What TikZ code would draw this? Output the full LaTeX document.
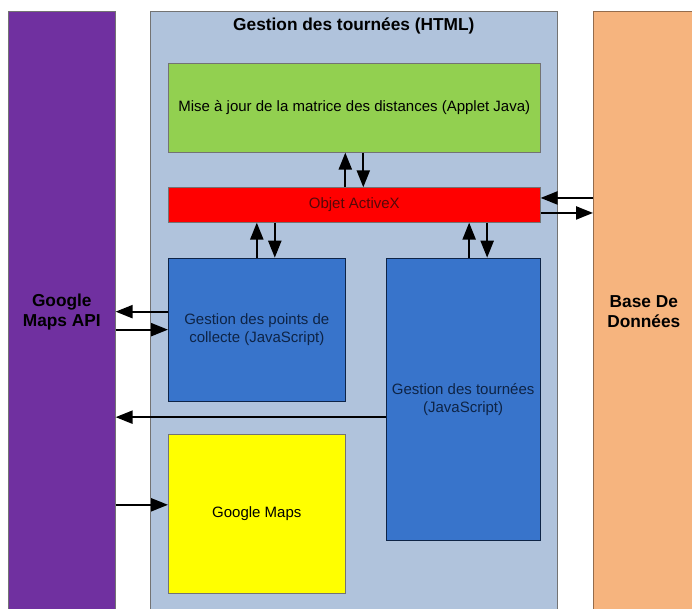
\documentclass[tikz,border=0pt]{standalone}
\usepackage{fontspec}
\setmainfont{Liberation Sans}
\usepackage{xcolor}
\usetikzlibrary{positioning}
\usetikzlibrary{calc,arrows.meta}
\definecolor{colapi}{HTML}{7030A0}
\definecolor{colhtml}{HTML}{B0C3DC}
\definecolor{colbdd}{HTML}{F6B47E}
\definecolor{colapplet}{HTML}{92D050}
\definecolor{colactivex}{HTML}{FF0000}
\definecolor{coljs}{HTML}{3874CB}
\definecolor{colmaps}{HTML}{FFFF00}
\definecolor{txtjs}{HTML}{0E2446}
\definecolor{txtactivex}{HTML}{560808}
\tikzset{
  bloc/.style={draw=black!55, line width=0.6pt, inner sep=0pt, align=center,
    font=\fontsize{15}{18}\selectfont},
  colonne/.style={bloc, font=\fontsize{17.3}{20}\selectfont\bfseries},
  fleche/.style={-{Triangle[length=17pt,width=13pt]}, line width=2.2pt},
}
% name, style, x1, y1, x2, y2, text
\newcommand\boite[7]{%
  \node[#2, anchor=north west, minimum width={(#5-#3)*1pt},
    minimum height={(#6-#4)*1pt}] (#1) at (#3,#4) {#7};}

\begin{document}
\begin{tikzpicture}[x=1pt,y=-1pt]
	\clip (0,0) rectangle (692,608);
	\boite{gmapi}{colonne, fill=colapi}{8}{10.7}{115}{612}{Google\\Maps API}
	\boite{html}{bloc, fill=colhtml}{150}{10.7}{557}{612}{}
	\boite{bdd}{colonne, fill=colbdd, draw=colbdd!60!black}{593}{10.7}{705}{612}{\hspace*{-11pt}Base De\\\hspace*{-11pt}Données}
	\node[font=\fontsize{17.3}{20}\selectfont\bfseries, below=4pt of html.north] (titre) {Gestion des tournées (HTML)};
	\boite{applet}{bloc, fill=colapplet}{168}{63}{540}{152}{Mise à jour de la matrice des distances (Applet Java)}
	\boite{activex}{bloc, fill=colactivex, text=txtactivex}{168}{187.3}{540}{222}{Objet ActiveX}
	\boite{points}{bloc, fill=coljs, draw=txtjs, text=txtjs}{168}{257.7}{345}{401}{Gestion des points de\\collecte (JavaScript)}
	\boite{tournees}{bloc, fill=coljs, draw=txtjs, text=txtjs}{385.7}{257.7}{540}{540}{Gestion des tournées\\(JavaScript)}
	\boite{gmaps}{bloc, fill=colmaps}{168}{434}{345}{593}{Google Maps}
	% applet <-> activex
	\draw[fleche] ([xshift=-9pt]activex.north) -- ([xshift=-9pt]applet.south);
	\draw[fleche] ([xshift=9pt]applet.south) -- ([xshift=9pt]activex.north);
	% activex <-> javascript
	\draw[fleche] (points.north) -- (points.north |- activex.south);
	\draw[fleche] ([xshift=18pt]points.north |- activex.south) -- ([xshift=18pt]points.north);
	\draw[fleche] ([xshift=6pt]tournees.north) -- ([xshift=6pt]tournees.north |- activex.south);
	\draw[fleche] ([xshift=24pt]tournees.north |- activex.south) -- ([xshift=24pt]tournees.north);
	% base de donnees
	\draw[fleche] ([yshift=7pt]activex.east -| bdd.west) -- ([yshift=7pt]activex.east);
	\draw[fleche] ([yshift=-8pt]activex.east) -- ([yshift=-8pt]activex.east -| bdd.west);
	% google maps api
	\draw[fleche] ([yshift=18pt]points.west) -- ([yshift=18pt]points.west -| gmapi.east);
	\draw[fleche] (points.west -| gmapi.east) -- (points.west);
	\draw[fleche] ([yshift=-18pt]tournees.west) -- ([yshift=-18pt]tournees.west -| gmapi.east);
	\draw[fleche] ([yshift=9pt]gmaps.west -| gmapi.east) -- ([yshift=9pt]gmaps.west);
\end{tikzpicture}
\end{document}
